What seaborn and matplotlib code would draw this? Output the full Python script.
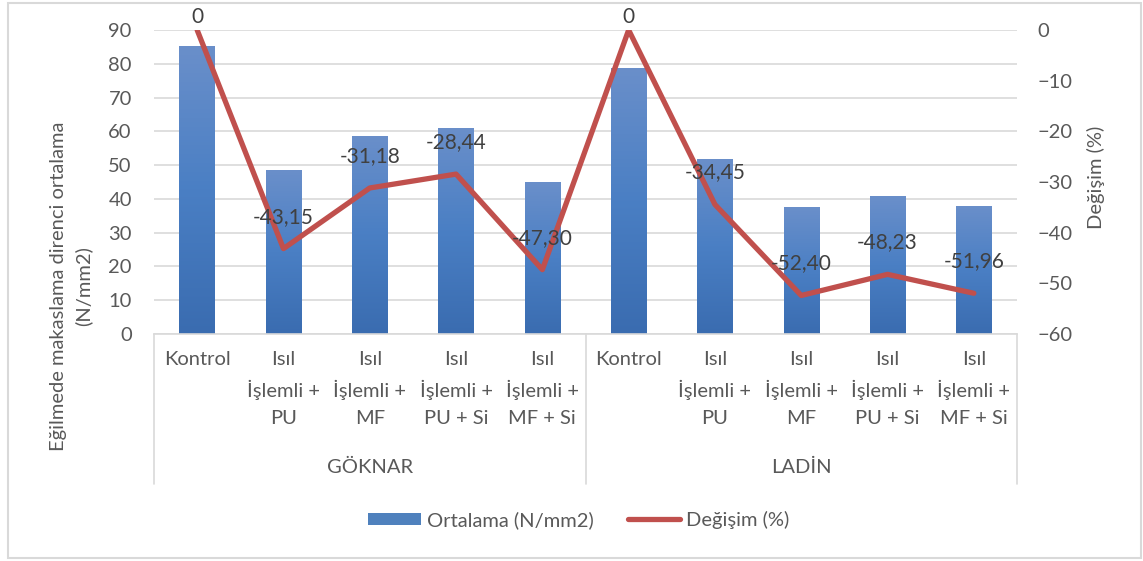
import numpy as np
import pandas as pd
import matplotlib
matplotlib.use("Agg")
import matplotlib.pyplot as plt
import matplotlib.transforms as mtransforms
from matplotlib.colors import LinearSegmentedColormap
from matplotlib.patches import Rectangle, Patch
from matplotlib.lines import Line2D
import seaborn as sns

# ---------------- data ----------------
groups = ["GÖKNAR", "LADİN"]
treatments = ["Kontrol", "Isıl\nİşlemli +\nPU", "Isıl\nİşlemli +\nMF",
              "Isıl\nİşlemli +\nPU + Si", "Isıl\nİşlemli +\nMF + Si"]
ortalama_goknar = [85.3, 48.5, 58.7, 61.0, 45.0]
ortalama_ladin = [78.8, 51.7, 37.5, 40.8, 37.9]
degisim_goknar = [0, -43.15, -31.18, -28.44, -47.30]
degisim_ladin = [0, -34.45, -52.40, -48.23, -51.96]
left_ticks = [0, 10, 20, 30, 40, 50, 60, 70, 80, 90]
right_ticks = [-60, -50, -40, -30, -20, -10, 0]
series_names = ["Ortalama (N/mm2)", "Değişim (%)"]
y_left_label = "Eğilmede makaslama direnci ortalama\n(N/mm2)"
y_right_label = "Değişim (%)"

rows = []
for g, vals, chg in [(groups[0], ortalama_goknar, degisim_goknar),
                     (groups[1], ortalama_ladin, degisim_ladin)]:
    for t, v, c in zip(treatments, vals, chg):
        rows.append({"group": g, "treat": t, "key": f"{g}|{t}", "ortalama": v, "degisim": c})
df = pd.DataFrame(rows)
df["pos"] = np.arange(len(df))
n = len(df)

# ---------------- style ----------------
sns.set_theme(style="white")
plt.rcParams["font.family"] = ["Lato", "DejaVu Sans"]
TXT = "#595959"
LBL = "#404040"
GRID = "#d9d9d9"
BAR = "#4f81bd"
LINE = "#c0504d"
FS = 14.5

W, H = 1143, 561
fig = plt.figure(figsize=(W / 100, H / 100), dpi=100)
fig.patch.set_facecolor("white")
ax = fig.add_axes([154 / W, 1 - 334 / H, (1017 - 154) / W, (334 - 30) / H])

# bars
sns.barplot(data=df, x="key", y="ortalama", order=list(df["key"]), width=0.41,
            color=BAR, saturation=1, errorbar=None, ax=ax, zorder=2)

ax.set_xlim(-0.5, n - 0.5)
ax.set_ylim(left_ticks[0], left_ticks[-1])
ax.set_yticks(left_ticks)
ax.yaxis.grid(True, color=GRID, lw=1.2)
ax.xaxis.grid(False)
ax.set_axisbelow(True)
for s in ["left", "right", "top"]:
    ax.spines[s].set_visible(False)
ax.spines["bottom"].set_color(GRID)
ax.spines["bottom"].set_linewidth(1.2)
ax.set_xlabel("")
ax.set_ylabel("")

# gradient fill for bars
cmap = LinearSegmentedColormap.from_list("g", ["#3a6cb0", "#4a7fc4", "#6a8fca"])
grad = np.linspace(0, 1, 256).reshape(-1, 1)
for p in list(ax.patches):
    x0, y0, w, h = p.get_x(), p.get_y(), p.get_width(), p.get_height()
    im = ax.imshow(grad, extent=[x0, x0 + w, y0, y0 + h], aspect="auto",
                   cmap=cmap, origin="lower", zorder=2.1, interpolation="bilinear")
    im.set_clip_path(p)
    p.set_facecolor("none")
    p.set_edgecolor("none")
ax.set_xlim(-0.5, n - 0.5)
ax.set_ylim(left_ticks[0], left_ticks[-1])

ax.set_xticks(df["pos"])
ax.set_xticklabels(df["treat"])
ax.tick_params(axis="x", length=0, pad=12, labelcolor=TXT, labelsize=FS)
for lbl in ax.get_xticklabels():
    lbl.set_linespacing(1.7)
    lbl.set_multialignment("center")
ax.tick_params(axis="y", length=0, pad=16, labelcolor=TXT, labelsize=FS)

# group labels and separators
trans = mtransforms.blended_transform_factory(ax.transData, ax.transAxes)
ngrp = len(treatments)
for gi, g in enumerate(groups):
    center = gi * ngrp + (ngrp - 1) / 2
    ax.text(center, (334 - 467) / 304, g, transform=trans, ha="center", va="center",
            color=TXT, fontsize=FS)
for b in range(len(groups) + 1):
    xb = b * ngrp - 0.5
    ax.plot([xb, xb], [0, (334 - 484) / 304], transform=trans, color=GRID,
            lw=1.2, clip_on=False)

# line on secondary axis
ax2 = ax.twinx()
sns.lineplot(x=df["pos"], y=df["degisim"], ax=ax2, color=LINE, lw=3.8,
             solid_joinstyle="round", solid_capstyle="round", zorder=3)
ax2.set_ylim(right_ticks[0], right_ticks[-1])
ax2.set_yticks(right_ticks)
ax2.set_xlim(-0.5, n - 0.5)
for s in ax2.spines.values():
    s.set_visible(False)
ax2.tick_params(axis="y", length=0, pad=15, labelcolor=TXT, labelsize=FS)
ax2.set_xlabel("")
ax2.set_ylabel("")
ax2.grid(False)
if ax2.get_legend() is not None:
    ax2.get_legend().remove()
if ax.get_legend() is not None:
    ax.get_legend().remove()

# data labels
for xp, v in zip(df["pos"], df["degisim"]):
    txt = "0" if v == 0 else f"{v:.2f}".replace(".", ",")
    off = 13 if v == 0 else 32
    ax2.annotate(txt, (xp, v), xytext=(0, off), textcoords="offset pixels",
                 ha="center", va="center", color=LBL, fontsize=FS + 0.5,
                 annotation_clip=False)

# axis titles
fig.text(71 / W, 1 - 286 / H, y_left_label, rotation=90, ha="center", va="center",
         color=TXT, fontsize=FS, linespacing=1.5, multialignment="center")
fig.text(1096 / W, 1 - 177 / H, y_right_label, rotation=90, ha="center", va="center",
         color=TXT, fontsize=FS)

# legend
handles = [Patch(facecolor=BAR, edgecolor="none"),
           Line2D([], [], color=LINE, lw=3.8, solid_capstyle="round")]
fig.legend(handles, series_names, loc="center", bbox_to_anchor=(579 / W, 1 - 520 / H),
           ncol=2, frameon=False, fontsize=FS, handlelength=2.6, handleheight=0.6,
           handletextpad=0.3, columnspacing=1.7, labelcolor=TXT)

# chart border
fig.patches.append(Rectangle((8 / W, 3 / H), (1141 - 8) / W, (558 - 3) / H,
                             transform=fig.transFigure, fill=False,
                             edgecolor=GRID, lw=1.5))

fig.savefig("out.png", dpi=100)
